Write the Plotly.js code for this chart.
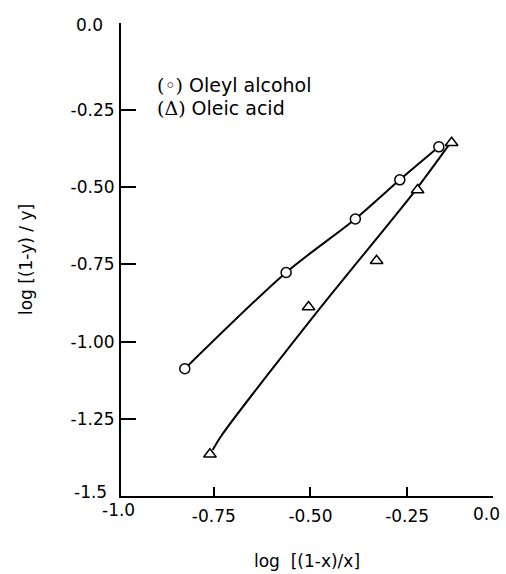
<!DOCTYPE html>
<html><head><meta charset="utf-8">
<script src="https://cdn.plot.ly/plotly-3.0.1.min.js"></script>
<style>html,body{margin:0;padding:0;background:#fff}</style>
</head><body><div id="chart" style="width:506px;height:574px"></div>
<script>
// Oleyl alcohol (circles)
const alcoholX = [-0.825, -0.563, -0.384, -0.269, -0.168];
const alcoholY = [-1.088, -0.776, -0.603, -0.476, -0.369];
// Oleic acid (triangles)
const acidX = [-0.760, -0.505, -0.329, -0.223, -0.135];
const acidY = [-1.365, -0.888, -0.738, -0.509, -0.356];
// Hand-drawn fitted curve for oleic acid
const acidCurveX = [-0.753, -0.730, -0.485, -0.228, -0.142];
const acidCurveY = [-1.351, -1.304, -0.907, -0.509, -0.363];
// Tick labels
const xTickVals = [-0.75, -0.5, -0.25];
const xTickText = ['-0.75', '-0.50', '-0.25'];
const yTickVals = [-1.25, -1.0, -0.75, -0.5, -0.25];
const yTickText = ['-1.25', '-1.00', '-0.75', '-0.50', '-0.25'];
const seriesNames = ['Oleyl alcohol', 'Oleic acid'];

const FONT = 'DejaVu Sans, Arial, sans-serif';
const traces = [
  {x: alcoholX, y: alcoholY, mode: 'lines', line: {color: '#000', width: 2, shape: 'spline', smoothing: 0.8}, hoverinfo: 'skip', showlegend: false},
  {x: acidCurveX, y: acidCurveY, mode: 'lines', line: {color: '#000', width: 2, shape: 'spline', smoothing: 0.8}, hoverinfo: 'skip', showlegend: false},
  {x: alcoholX, y: alcoholY, mode: 'markers', name: seriesNames[0], marker: {symbol: 'circle', size: 10, color: '#fff', line: {color: '#000', width: 1.5}}, showlegend: false},
  {x: acidX, y: acidY, mode: 'markers', name: seriesNames[1], marker: {symbol: 'triangle-up', size: 11, color: '#fff', line: {color: '#000', width: 1.5}}, showlegend: false}
];

const L = 121, R = 13, T = 23, B = 78;
const W = 506 - L - R, H = 574 - T - B;
const px2paperX = p => (p - L) / W;
const px2paperY = p => 1 - (p - T) / H;

const layout = {
  width: 506, height: 574,
  margin: {l: L, r: R, t: T, b: B, pad: 0},
  paper_bgcolor: '#fff', plot_bgcolor: '#fff',
  font: {family: FONT, size: 17, color: '#000'},
  showlegend: false,
  xaxis: {
    range: [-0.99, -0.028], showgrid: false, zeroline: false,
    showline: true, linecolor: '#000', linewidth: 2,
    ticks: 'inside', ticklen: 9, tickwidth: 2, tickcolor: '#000',
    tickmode: 'array', tickvals: xTickVals, ticktext: xTickText,
    tickfont: {family: FONT, size: 17}, ticklabelstandoff: 4,
    title: {text: 'log&nbsp; [(1-x)/x]', font: {family: FONT, size: 17}, standoff: 30}
  },
  yaxis: {
    range: [-1.5, 0.032], showgrid: false, zeroline: false,
    showline: true, linecolor: '#000', linewidth: 2,
    ticks: 'inside', ticklen: 15, tickwidth: 2, tickcolor: '#000',
    tickmode: 'array', tickvals: yTickVals, ticktext: yTickText,
    tickfont: {family: FONT, size: 17}, ticklabelstandoff: 1,
    title: {text: 'log [(1-y) / y]', font: {family: FONT, size: 17}, standoff: 34}
  },
  annotations: [
    {xref: 'paper', yref: 'paper', x: px2paperX(105), y: px2paperY(25), text: '0.0', showarrow: false, xanchor: 'right', yanchor: 'middle', font: {family: FONT, size: 17}},
    {xref: 'paper', yref: 'paper', x: px2paperX(109), y: px2paperY(492), text: '-1.5', showarrow: false, xanchor: 'right', yanchor: 'middle', font: {family: FONT, size: 17}},
    {xref: 'paper', yref: 'paper', x: px2paperX(118), y: px2paperY(510), text: '-1.0', showarrow: false, xanchor: 'center', yanchor: 'middle', font: {family: FONT, size: 17}},
    {xref: 'paper', yref: 'paper', x: px2paperX(486), y: px2paperY(514), text: '0.0', showarrow: false, xanchor: 'center', yanchor: 'middle', font: {family: FONT, size: 17}},
    {xref: 'paper', yref: 'paper', x: px2paperX(155), y: px2paperY(85), text: '<span style="font-family:DejaVu Serif">(◦)</span> ' + seriesNames[0], showarrow: false, xanchor: 'left', yanchor: 'middle', font: {family: FONT, size: 19}},
    {xref: 'paper', yref: 'paper', x: px2paperX(155), y: px2paperY(108), text: '<span style="font-family:DejaVu Serif">(Δ)</span> ' + seriesNames[1], showarrow: false, xanchor: 'left', yanchor: 'middle', font: {family: FONT, size: 19}}
  ]
};

Plotly.newPlot('chart', traces, layout, {displayModeBar: false, staticPlot: true});
</script></body></html>
